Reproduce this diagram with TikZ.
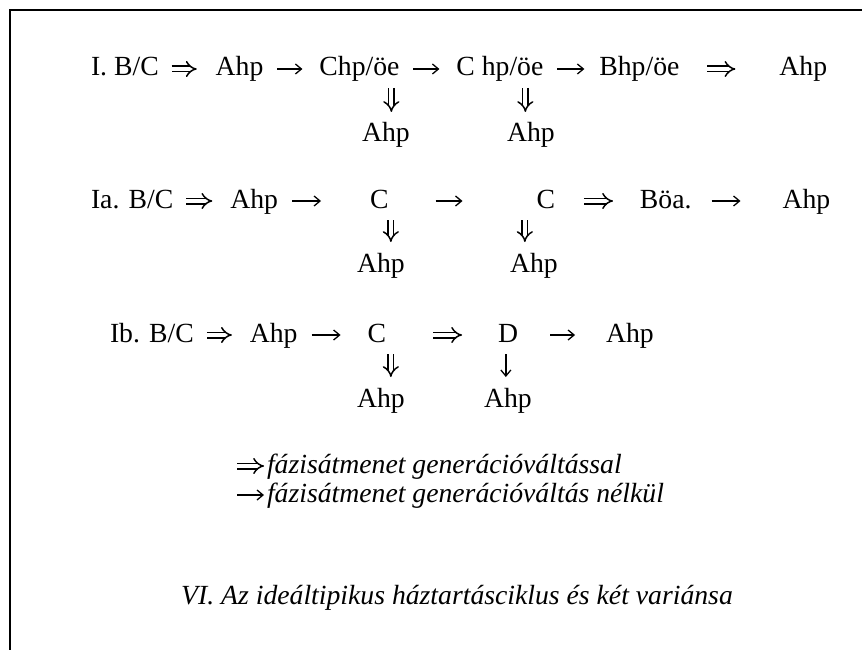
\documentclass[tikz,border=0pt]{standalone}
\usepackage{fontspec}
\setmainfont{Liberation Serif}
\usetikzlibrary{arrows.meta, positioning}
\tikzset{
  txt/.style={inner sep=0pt, outer sep=0pt, text height=20pt, text depth=6pt, font=\fontsize{27.7}{33}\selectfont},
  lbl/.style={txt, font=\fontsize{27.7}{33}\selectfont\itshape},
  tr/.style={line width=1.3pt, -{Straight Barb[length=6pt, width=10pt]}},
  gen/.style={double, double distance=4pt, line width=1.5pt, -{Implies[scale=1.15]}},
  sh/.style 2 args={shorten <=#1pt, shorten >=#2pt}
}

\begin{document}
\begin{tikzpicture}[x=1pt, y=-1pt]
  \useasboundingbox (0,0) rectangle (862,650);
  \draw[line width=2.7pt] (10,650) -- (10,10) -- (862,10);

  % I.
  \node[txt, anchor=base west] (bc1) at (91,76) {I. B/C};
  \node[txt, right=57pt of bc1] (ahp1) {Ahp};
  \node[txt, right=56pt of ahp1] (chp1) {Chp/öe};
  \node[txt, right=57pt of chp1] (chp1b) {C hp/öe};
  \node[txt, right=56pt of chp1b] (bhp1) {Bhp/öe};
  \node[txt, right=100pt of bhp1] (ahp1e) {Ahp};
  \node[txt, anchor=base west] (ahp1a) at (362,142) {Ahp};
  \node[txt, anchor=base west] (ahp1c) at (507,142) {Ahp};

  \draw[gen, sh={13}{19}] (bc1) -- (ahp1);
  \draw[tr, sh={14}{17}] (ahp1) -- (chp1);
  \draw[tr, sh={14}{17}] (chp1) -- (chp1b);
  \draw[tr, sh={14}{15}] (chp1b) -- (bhp1);
  \draw[gen, sh={28}{44}] (bhp1) -- (ahp1e);
  \draw[gen, sh={6}{10}] ([xshift=5.5pt]ahp1a.north |- chp1.south) -- ([xshift=5.5pt]ahp1a.north);
  \draw[gen, sh={6}{10}] ([xshift=-5.5pt]ahp1c.north |- chp1b.south) -- ([xshift=-5.5pt]ahp1c.north);

  % Ia.
  \node[txt, anchor=base west] (bc2) at (91,208) {Ia. B/C};
  \node[txt, right=57pt of bc2] (ahp2) {Ahp};
  \node[txt, right=92pt of ahp2] (c2a) {C};
  \node[txt, right=148pt of c2a] (c2b) {C};
  \node[txt, right=85pt of c2b] (boa2) {Böa.};
  \node[txt, right=91pt of boa2] (ahp2e) {Ahp};
  \node[txt, anchor=base west] (ahp2a) at (357,272) {Ahp};
  \node[txt, anchor=base west] (ahp2c) at (510,272) {Ahp};

  \draw[gen, sh={13}{18}] (bc2) -- (ahp2);
  \draw[tr, sh={14}{49}] (ahp2) -- (c2a);
  \draw[tr, sh={47}{74}] (c2a) -- (c2b);
  \draw[gen, sh={29}{27}] (c2b) -- (boa2);
  \draw[tr, sh={20}{42}] (boa2) -- (ahp2e);
  \draw[gen, sh={6}{10}] ([xshift=10pt]ahp2a.north |- c2a.south) -- ([xshift=10pt]ahp2a.north);
  \draw[gen, sh={6}{10}] ([xshift=-9pt]ahp2c.north |- c2b.south) -- ([xshift=-9pt]ahp2c.north);

  % Ib.
  \node[txt, anchor=base west] (bc3) at (110,342) {Ib. B/C};
  \node[txt, right=56pt of bc3] (ahp3) {Ahp};
  \node[txt, right=70pt of ahp3] (c3) {C};
  \node[txt, right=112pt of c3] (d3) {D};
  \node[txt, right=88pt of d3] (ahp3e) {Ahp};
  \node[txt, anchor=base west] (ahp3a) at (357,407) {Ahp};
  \node[txt, anchor=base west] (ahp3d) at (484,407) {Ahp};

  \draw[gen, sh={13}{18}] (bc3) -- (ahp3);
  \draw[tr, sh={14}{27}] (ahp3) -- (c3);
  \draw[gen, sh={47}{36}] (c3) -- (d3);
  \draw[tr, sh={32}{31}] (d3) -- (ahp3e);
  \draw[gen, sh={6}{10}] ([xshift=10pt]ahp3a.north |- c3.south) -- ([xshift=10pt]ahp3a.north);
  \draw[tr, sh={6}{10}] ([xshift=-2pt]ahp3d.north |- d3.south) -- ([xshift=-2pt]ahp3d.north);

  % legend
  \node[lbl, anchor=base west] (leg1) at (267,473) {fázisátmenet generációváltással};
  \node[lbl, anchor=base west] (leg2) at (267,502) {fázisátmenet generációváltás nélkül};
  \coordinate (lg1) at (237,466);
  \coordinate (lg2) at (237,495);
  \draw[gen, sh={0}{3}] (lg1) -- (leg1);
  \draw[tr, sh={0}{3}] (lg2) -- (leg2);

  \node[lbl, anchor=base] (cap) at (457,604) {VI. Az ideáltipikus háztartásciklus és két variánsa};
\end{tikzpicture}
\end{document}
